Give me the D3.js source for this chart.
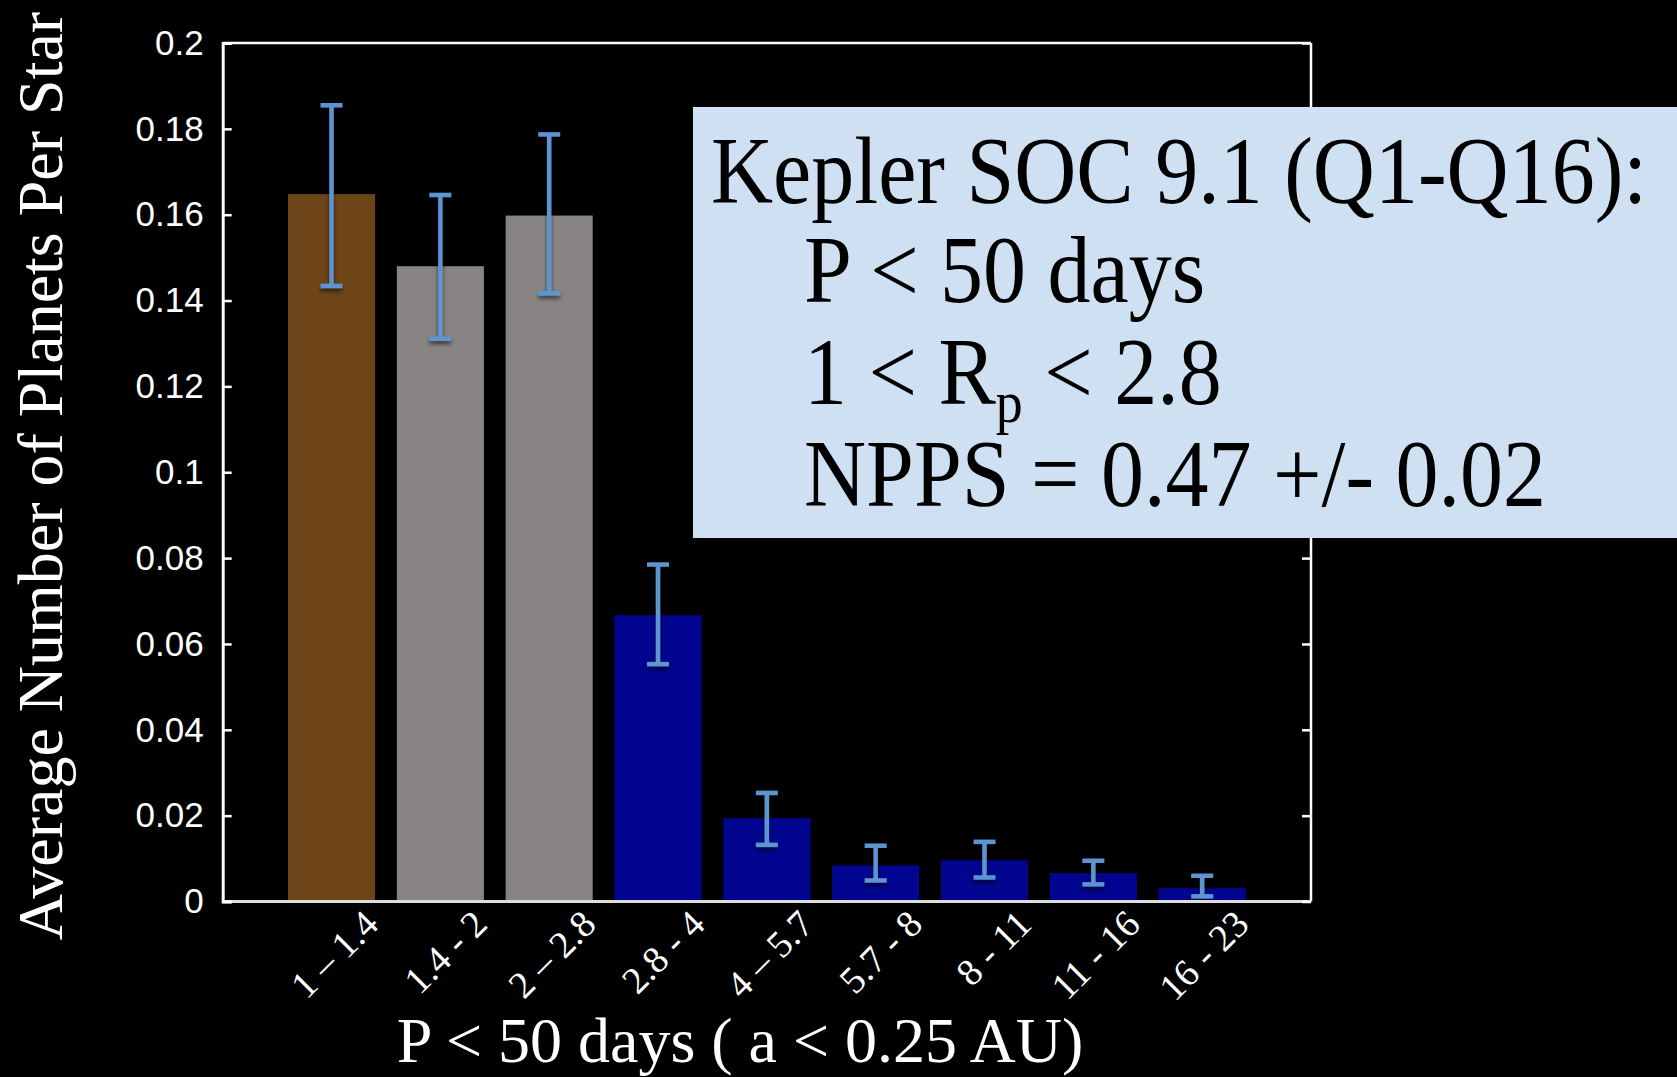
<!DOCTYPE html>
<html>
<head>
<meta charset="utf-8">
<script src="https://cdn.jsdelivr.net/npm/d3@7"></script>
<style>
  html, body { margin: 0; padding: 0; background: #000; }
  svg { display: block; }
</style>
</head>
<body>
<svg id="chart"></svg>
<script>
// radius bins (Earth radii) and planet occurrence per star
const categories = ["1 \u2013 1.4", "1.4 - 2", "2 \u2013 2.8", "2.8 - 4", "4 \u2013 5.7", "5.7 - 8", "8 - 11", "11 - 16", "16 - 23"];
const values = [0.1648, 0.148, 0.1598, 0.0667, 0.0194, 0.0084, 0.0096, 0.0066, 0.0031];
const errLow = [0.1434, 0.1311, 0.1417, 0.0553, 0.0132, 0.0049, 0.0056, 0.004, 0.0012];
const errHigh = [0.1855, 0.1646, 0.1787, 0.0785, 0.0253, 0.013, 0.0139, 0.0095, 0.006];
const groups = ["earth", "super", "super", "nep", "nep", "nep", "nep", "nep", "nep"];
const yTicks = [0, 0.02, 0.04, 0.06, 0.08, 0.1, 0.12, 0.14, 0.16, 0.18, 0.2];

const legendLines = ["Kepler SOC 9.1 (Q1-Q16):", "P < 50 days", "1 < R|p| < 2.8", "NPPS = 0.47 +/- 0.02"];

const width = 1677;
const height = 1077;
const margin = { top: 43, right: 366, bottom: 175.5, left: 222.7 };

const colors = { earth: "#6e4519", super: "#888483", nep: "#01058f" };
const errColor = "#5b95cf";
const serif = "'Liberation Serif', 'Times New Roman', serif";

const svg = d3.select("#chart").attr("width", width).attr("height", height);
svg.append("rect").attr("width", width).attr("height", height).attr("fill", "#000");

const defs = svg.append("defs");
defs.append("filter").attr("id", "shadow").attr("x", "-50%").attr("y", "-50%").attr("width", "200%").attr("height", "200%")
  .append("feDropShadow").attr("dx", 0).attr("dy", 3).attr("stdDeviation", 2).attr("flood-color", "#000").attr("flood-opacity", 0.6);

const x = d3.scaleLinear().domain([0, categories.length + 1]).range([margin.left, width - margin.right]);
const y = d3.scaleLinear().domain([0, 0.2]).range([height - margin.bottom, margin.top]);
const step = x(1) - x(0);
const barW = step * 0.8;

// bars
svg.append("g")
  .selectAll("rect")
  .data(values)
  .join("rect")
  .attr("x", (d, i) => x(i + 1) - barW / 2)
  .attr("y", (d) => y(d))
  .attr("width", barW)
  .attr("height", (d) => y(0) - y(d))
  .attr("fill", (d, i) => colors[groups[i]]);

// error bars
const capW = 22;
const eg = svg.append("g").attr("stroke", errColor).attr("filter", "url(#shadow)");
values.forEach((v, i) => {
  const cx = x(i + 1);
  const g = eg.append("g");
  g.append("line").attr("x1", cx).attr("x2", cx).attr("y1", y(errHigh[i])).attr("y2", y(errLow[i])).attr("stroke-width", 4.5);
  g.append("line").attr("x1", cx - capW / 2).attr("x2", cx + capW / 2).attr("y1", y(errHigh[i])).attr("y2", y(errHigh[i])).attr("stroke-width", 4.5);
  g.append("line").attr("x1", cx - capW / 2).attr("x2", cx + capW / 2).attr("y1", y(errLow[i])).attr("y2", y(errLow[i])).attr("stroke-width", 4.5);
});

// frame
const x0 = x(0), x1 = x(categories.length + 1);
svg.append("line").attr("x1", x0).attr("x2", x1).attr("y1", y(0.2)).attr("y2", y(0.2)).attr("stroke", "#fff").attr("stroke-width", 2.5);
svg.append("line").attr("x1", x1).attr("x2", x1).attr("y1", y(0.2)).attr("y2", y(0)).attr("stroke", "#fff").attr("stroke-width", 2.5);
svg.append("line").attr("x1", x0).attr("x2", x1).attr("y1", y(0)).attr("y2", y(0)).attr("stroke", "#ddd").attr("stroke-width", 3);

// left axis
const yAxis = (g) =>
  g
    .attr("transform", `translate(${x0},0)`)
    .call(d3.axisLeft(y).tickValues(yTicks).tickSize(-9).tickPadding(19).tickFormat((d) => (d === 0 ? "0" : String(+d.toFixed(2)))))
    .call((g) => g.select(".domain").attr("stroke", "#fff").attr("stroke-width", 3))
    .call((g) => g.selectAll(".tick line").attr("stroke", "#fff").attr("stroke-width", 2.5))
    .call((g) => g.selectAll(".tick text").attr("fill", "#fff").style("font-family", "'Liberation Sans', Arial, sans-serif").style("font-size", "35px"));
svg.append("g").call(yAxis);

// right axis ticks
svg.append("g")
  .attr("transform", `translate(${x1},0)`)
  .call(d3.axisRight(y).tickValues(yTicks).tickSize(-9).tickFormat(""))
  .call((g) => g.select(".domain").remove())
  .call((g) => g.selectAll(".tick line").attr("stroke", "#fff").attr("stroke-width", 2.5));

// x labels
svg.append("g")
  .selectAll("text")
  .data(categories)
  .join("text")
  .attr("transform", (d, i) => `translate(${x(i + 1) + 30},${y(0) + 6}) rotate(-45)`)
  .attr("text-anchor", "end")
  .attr("dy", "0.7em")
  .attr("fill", "#fff")
  .style("font-family", serif)
  .style("font-size", "38px")
  .text((d) => d);

// axis titles
svg.append("text")
  .attr("x", 740)
  .attr("y", 1062)
  .attr("text-anchor", "middle")
  .attr("fill", "#fff")
  .style("font-family", serif)
  .style("font-size", "64px")
  .text("P < 50 days ( a < 0.25 AU)");

svg.append("text")
  .attr("transform", "translate(62,476) rotate(-90)")
  .attr("text-anchor", "middle")
  .attr("fill", "#fff")
  .style("font-family", serif)
  .style("font-size", "64px")
  .text("Average Number of Planets Per Star");

// info box
svg.append("rect").attr("x", 693).attr("y", 107).attr("width", width - 693).attr("height", 431).attr("fill", "#cfe0f2");
const lg = svg.append("g")
  .attr("fill", "#000")
  .style("font-family", serif)
  .style("font-size", "86px");
const lineX = [711, 804, 804, 804];
const lineY = [203, 302, 404, 506];
legendLines.forEach((s, i) => {
  const t = lg.append("text").attr("transform", `translate(${lineX[i]},${lineY[i]}) scale(1,1.1)`);
  const parts = s.split("|");
  t.append("tspan").text(parts[0]);
  if (parts.length > 1) {
    t.append("tspan").attr("dy", 16).style("font-size", "54px").text(parts[1]);
    t.append("tspan").attr("dy", -16).text(parts[2]);
  }
});
</script>
</body>
</html>
